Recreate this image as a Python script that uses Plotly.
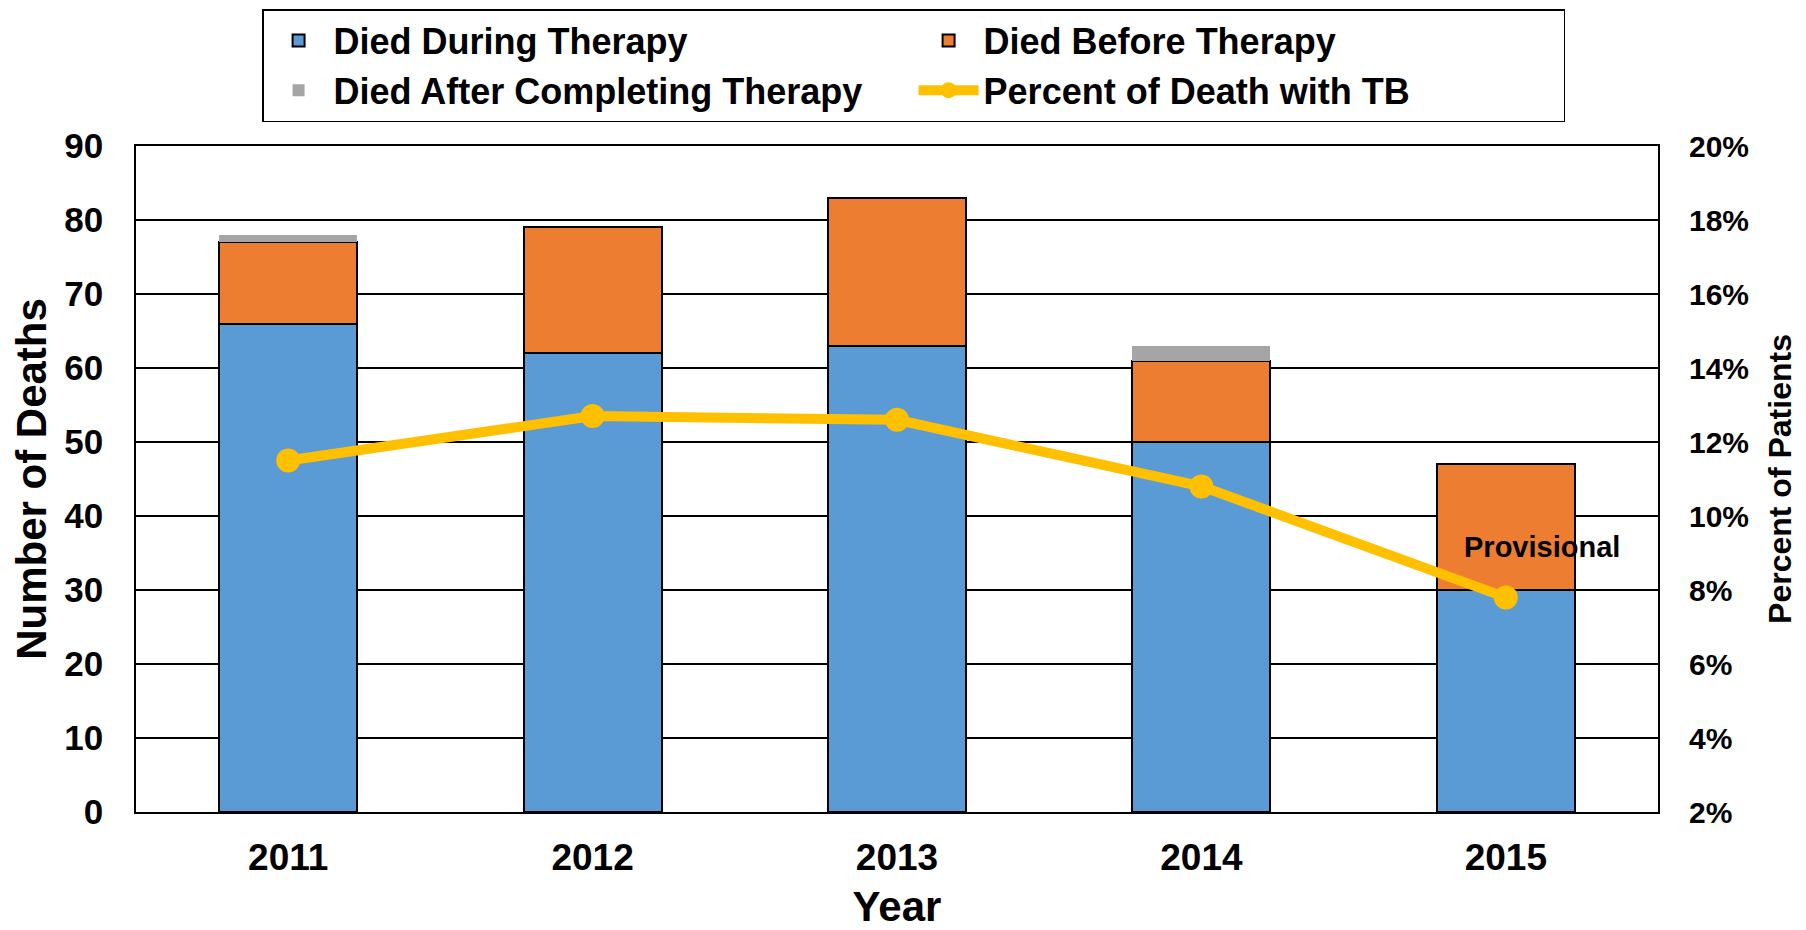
import plotly.graph_objects as go

years = ["2011", "2012", "2013", "2014", "2015"]
died_during = [66, 62, 63, 50, 30]
died_before = [11, 17, 20, 11, 17]
died_after = [1, 0, 0, 2, 0]
pct_death = [0.115, 0.127, 0.126, 0.108, 0.078]

FONT = "Liberation Sans, Arial, sans-serif"
CLEAR = "rgba(0,0,0,0)"

xpos = list(range(len(years)))  # category index of each year

fig = go.Figure()
fig.add_trace(go.Bar(x=xpos, y=died_during, name="Died During Therapy",
                     marker=dict(color="#5B9BD5", line=dict(color="black", width=2))))
fig.add_trace(go.Bar(x=xpos, y=died_before, name="Died Before Therapy",
                     marker=dict(color="#ED7D31", line=dict(color="black", width=2))))
fig.add_trace(go.Bar(x=xpos, y=died_after, name="Died After Completing Therapy",
                     marker=dict(color="#A5A5A5", line=dict(width=0))))
fig.add_trace(go.Scatter(x=xpos, y=pct_death, name="Percent of Death with TB", yaxis="y2",
                         mode="lines+markers",
                         line=dict(color="#FFC000", width=10),
                         marker=dict(color="#FFC000", size=24)))

fig.add_annotation(x=xpos[years.index("2015")], y=35.8, text="<b>Provisional</b>", showarrow=False,
                   xshift=36, font=dict(family=FONT, size=29, color="black"))

# page body has an 8px default margin: figure is sized/positioned to compensate
fig.update_layout(
    width=1798, height=922,
    barmode="stack", bargap=0.547,
    plot_bgcolor="white", paper_bgcolor="white",
    font=dict(family=FONT, color="black"),
    margin=dict(l=128, r=148, t=138, b=118, autoexpand=False),
    showlegend=True,
    legend=dict(orientation="h", x=0.5109, xanchor="center", y=1.2057, yanchor="top",
                entrywidth=575, entrywidthmode="pixels", itemwidth=60,
                bordercolor="black", borderwidth=1.5,
                font=dict(family=FONT, size=36, color="black", weight="bold"),
                traceorder="normal"),
    xaxis=dict(
        type="linear", range=[-0.5, len(years) - 0.5],
        tickmode="array", tickvals=xpos, ticktext=years,
        showline=True, mirror=True, linecolor="black", linewidth=1.5,
        showgrid=False, zeroline=False,
        ticks="outside", ticklen=12, tickcolor=CLEAR,
        tickfont=dict(family=FONT, size=37, weight="bold"),
        title=dict(text="Year", font=dict(family=FONT, size=42, weight="bold"), standoff=17),
    ),
    yaxis=dict(
        range=[0, 90], dtick=10,
        showline=True, mirror=True, linecolor="black", linewidth=1.5,
        showgrid=True, gridcolor="black", gridwidth=1.5, zeroline=False,
        ticks="outside", ticklen=24, tickcolor=CLEAR,
        tickfont=dict(family=FONT, size=35, weight="bold"),
        title=dict(text="Number of Deaths", font=dict(family=FONT, size=42, weight="bold"), standoff=6),
    ),
    yaxis2=dict(
        overlaying="y", side="right", range=[0.02, 0.20], dtick=0.02, tickformat=".0%",
        showgrid=False, zeroline=False, showline=False,
        ticks="outside", ticklen=24, tickcolor=CLEAR,
        tickfont=dict(family=FONT, size=30, weight="bold"),
        title=dict(text="Percent of Patients", font=dict(family=FONT, size=32, weight="bold"), standoff=20),
    ),
)

fig.write_html("out.html")
